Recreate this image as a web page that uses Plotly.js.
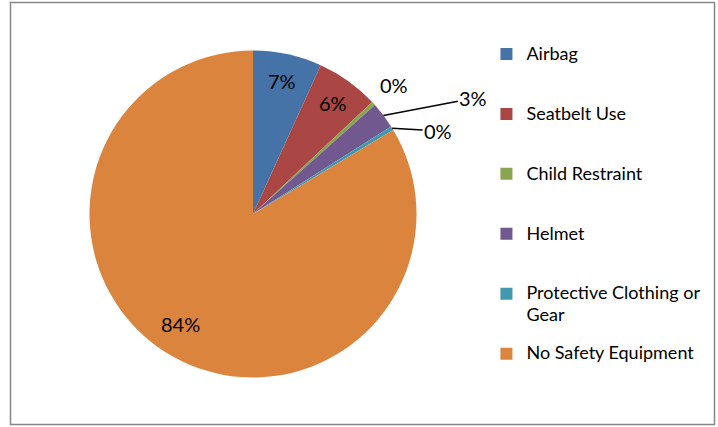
<!DOCTYPE html>
<html>
<head>
<meta charset="utf-8">
<script src="https://cdn.plot.ly/plotly-3.0.1.min.js"></script>
<style>
  html, body { margin: 0; padding: 0; background: #fff; }
  #chart { width: 718px; height: 427px; }
</style>
</head>
<body>
<div id="chart"></div>
<script>
// Data (share of cases, %)
var categories = ['Airbag', 'Seatbelt Use', 'Child Restraint', 'Helmet', 'Protective Clothing or<br>Gear', 'No Safety Equipment'];
var values = [6.8, 6.2, 0.4, 2.6, 0.4, 83.6];
var colors = ['#4572A7', '#AA4643', '#89A54E', '#71588F', '#4198AF', '#DB843D'];

// Label placement style per slice: inside label, outside label, or outside with leader line (pixel offsets)
var labelStyles = [
  { mode: 'inside' },
  { mode: 'inside' },
  { mode: 'outside' },
  { mode: 'leader', ax: 90, ay: -17 },
  { mode: 'leader', ax: 46, ay: 3 },
  { mode: 'inside', dx: -5, dy: -9 }
];

var W = 718, H = 427;
var cx = 253, cy = 214, r = 163.5;
var FONT = 'Lato, sans-serif';

// Legend entries padded to three lines so each entry takes the same height
var legendLabels = categories.map(function (c) {
  var lines = c.split('<br>');
  var out = lines.map(function (l, i) {
    var s = '<span style="font-size:18px">' + l + '</span>';
    return i > 0 ? '<sub>' + s + '</sub>' : s;
  });
  while (out.length < 3) out.push('&nbsp;');
  return out.join('<br>');
});

var total = values.reduce(function (a, b) { return a + b; }, 0);

// Percentage labels placed from the slice angles (pie starts at 12 o'clock, clockwise)
var annotations = [];
var cum = 0;
values.forEach(function (v, i) {
  var mid = (cum + v / 2) / total * 2 * Math.PI;
  cum += v;
  var st = labelStyles[i];
  var txt = Math.round(v / total * 100) + '%';
  var rho = st.mode === 'inside' ? r * 0.835 : (st.mode === 'outside' ? r * 1.17 : r);
  var px = cx + rho * Math.sin(mid) + (st.dx || 0);
  var py = cy - rho * Math.cos(mid) + (st.dy || 0);
  var a = {
    x: px / W, y: 1 - py / H, xref: 'paper', yref: 'paper',
    text: txt, font: { family: FONT, size: 20, color: '#000' },
    xanchor: 'center', yanchor: 'middle', showarrow: false
  };
  if (st.mode === 'leader') {
    a.showarrow = true;
    a.arrowhead = 0;
    a.arrowwidth = 1.5;
    a.arrowcolor = '#000';
    a.ax = st.ax;
    a.ay = st.ay;
    a.standoff = 0;
  }
  annotations.push(a);
});

var trace = {
  type: 'pie',
  labels: legendLabels,
  values: values,
  sort: false,
  direction: 'clockwise',
  rotation: 0,
  marker: { colors: colors, line: { width: 0 } },
  textinfo: 'none',
  hoverinfo: 'label+percent',
  domain: {
    x: [(cx - r) / W, (cx + r) / W],
    y: [(H - cy - r) / H, (H - cy + r) / H]
  }
};

var layout = {
  width: W,
  height: H,
  margin: { l: 0, r: 0, t: 0, b: 0 },
  paper_bgcolor: '#ffffff',
  showlegend: true,
  legend: {
    x: 0.6775,
    xanchor: 'left',
    y: 0.911,
    yanchor: 'top',
    valign: 'top',
    font: { family: FONT, size: 14.6, color: '#000' },
    bgcolor: 'rgba(0,0,0,0)',
    itemwidth: 30
  },
  annotations: annotations,
  shapes: [{
    type: 'rect', xref: 'paper', yref: 'paper',
    x0: 10.5 / W, x1: 714.5 / W, y0: 2.5 / H, y1: 424.5 / H,
    line: { color: '#868686', width: 1.5 }
  }]
};

Plotly.newPlot('chart', [trace], layout, { displayModeBar: false, staticPlot: true });
</script>
</body>
</html>
